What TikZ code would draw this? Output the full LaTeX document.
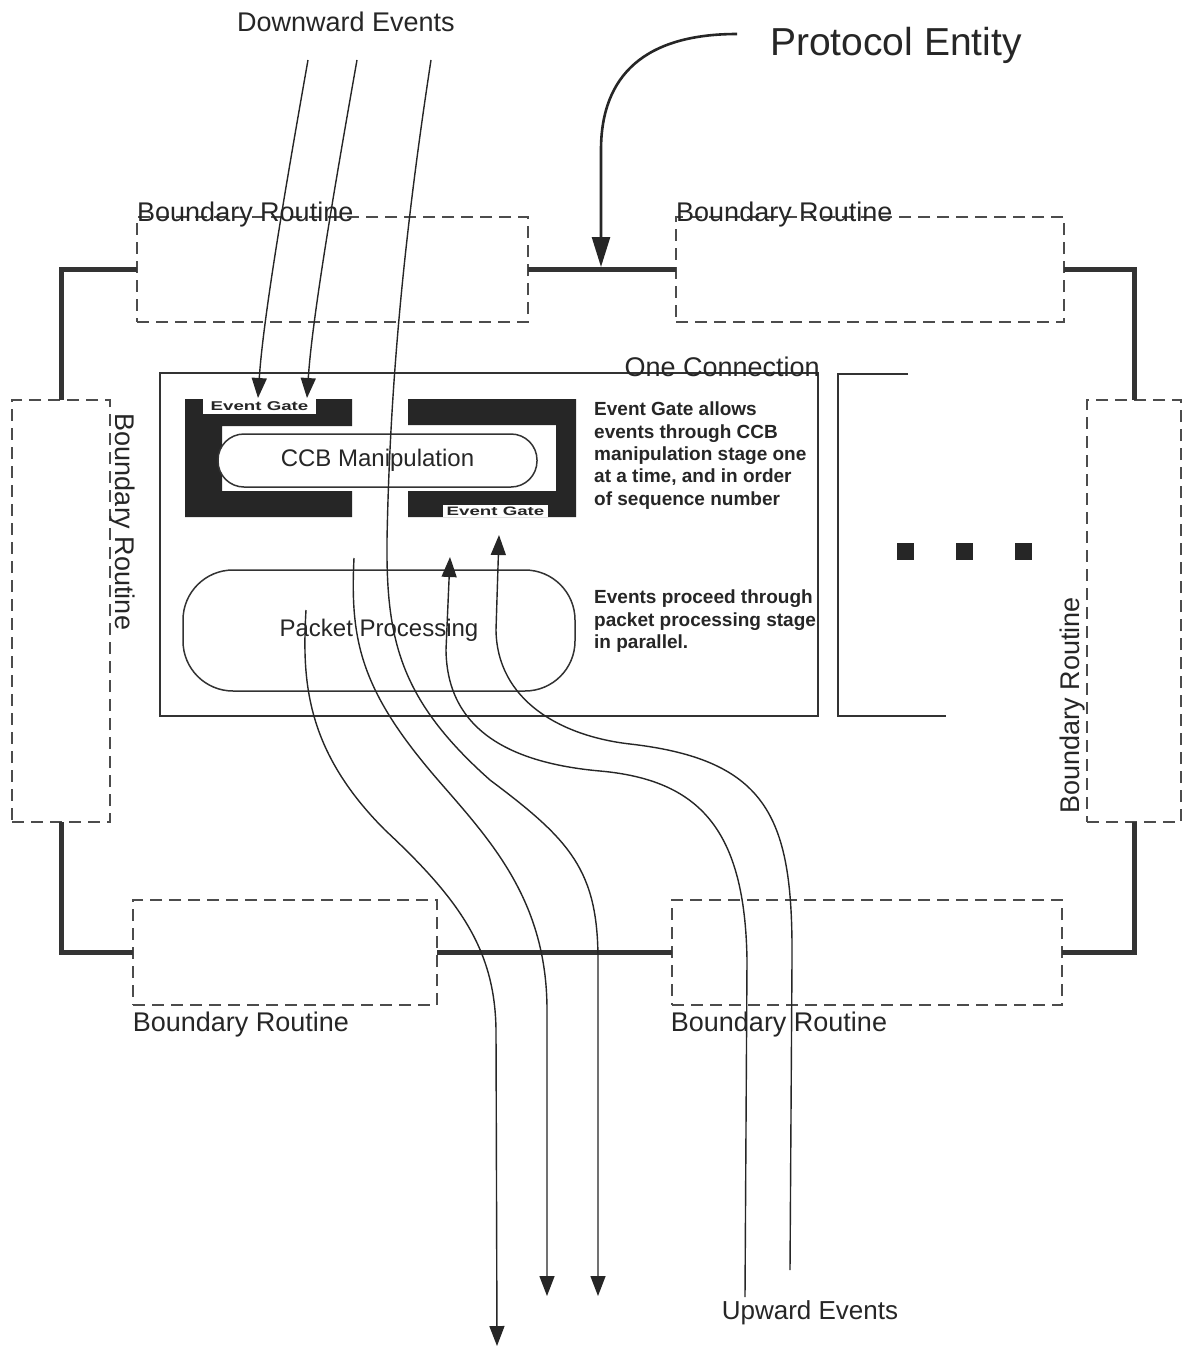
\documentclass[tikz,border=0pt]{standalone}
\usepackage{fontspec}
\setmainfont{Liberation Sans}
\usepackage{graphicx}
\usetikzlibrary{arrows.meta}
\begin{document}
\begin{tikzpicture}[x=1pt,y=-1pt,
  brbox/.style={draw=black!70, dash pattern=on 12pt off 7pt, line width=1.6pt, inner sep=0pt, outer sep=0pt},
  wire/.style={draw=black!80, line width=5pt},
  frame/.style={draw=black!80, line width=1.5pt, inner sep=0pt, outer sep=0pt},
  flow/.style={draw=black!85, line width=1.4pt},
  tipd/.style={-{Triangle[length=20pt,width=15pt]}},
  lbl/.style={inner sep=0pt, font=\fontsize{27}{30}\selectfont, text=black!85},
  note/.style={inner sep=0pt, anchor=north west, align=left, font=\fontsize{19}{22.3}\selectfont\bfseries, text=black!85},
  gatelbl/.style={fill=white, inner sep=0pt, font=\fontsize{17}{18}\selectfont\bfseries, text=black!85},
  gate/.style={fill=black!85, draw=none},
  dot/.style={fill=black!85, minimum size=17pt, inner sep=0pt}
]
\useasboundingbox[fill=white] (0,0) rectangle (1183,1349);

% boundary routine boxes
\node[brbox, minimum width=391pt, minimum height=105pt] (brTL) at (332.5,269.5) {};
\node[brbox, minimum width=388pt, minimum height=105pt] (brTR) at (870,269.5) {};
\node[brbox, minimum width=98pt, minimum height=422pt] (brL) at (61,611) {};
\node[brbox, minimum width=94pt, minimum height=422pt] (brR) at (1134,611) {};
\node[brbox, minimum width=304pt, minimum height=105pt] (brBL) at (285,952.5) {};
\node[brbox, minimum width=390pt, minimum height=105pt] (brBR) at (867,952.5) {};

% thick protocol entity ring
\draw[wire] (brTL.east) -- (brTR.west);
\draw[wire] (brTL.west) -| (brL.north);
\draw[wire] (brL.south) |- (brBL.west);
\draw[wire] (brBL.east) -- (brBR.west);
\draw[wire] (brBR.east) -| (brR.south);
\draw[wire] (brR.north) |- (brTR.east);

% labels of boundary routines
\node[lbl, anchor=base west] (lTL) at (137,221) {Boundary Routine};
\node[lbl, anchor=base west] (lTR) at (676,221) {Boundary Routine};
\node[lbl] (lBL) at (241,1025) {Boundary Routine};
\node[lbl] (lBR) at (779,1025) {Boundary Routine};
\node[lbl, rotate=-90] (lL) at (122,522) {Boundary Routine};
\node[lbl, rotate=90] (lR) at (1073,705) {Boundary Routine};

% titles
\node[lbl] (down) at (346,22) {Downward Events};
\node[lbl, font=\fontsize{26}{30}\selectfont] (up) at (810,1313) {Upward Events};
\node[lbl, font=\fontsize{39}{44}\selectfont] (pe) at (896,45) {Protocol Entity};

% protocol entity pointer
\coordinate (pes) at (737,34);
\coordinate (pej) at (601,267);
\draw[draw=black!85, line width=2.6pt, -{Triangle[length=30pt,width=18pt]}]
  (pes) .. controls (645,34) and (601,75) .. (601,150) -- (pej);

% one connection box
\node[frame, minimum width=658pt, minimum height=343pt] (conn) at (489,544.5) {};
\node[lbl, anchor=base east] (lconn) at (820,376) {One Connection};

% second (partial) connection
\coordinate (c2a) at (908,374);
\coordinate (c2b) at (838,374);
\coordinate (c2c) at (838,716);
\coordinate (c2d) at (946,716);
\draw[frame] (c2a) -- (c2b) -- (c2c) -- (c2d);

% dots
\node[dot] (dt1) at (905,551) {};
\node[dot] (dt2) at (964,551) {};
\node[dot] (dt3) at (1023,551) {};

% event gates
\fill[gate] (185,399) -- (352,399) -- (352,426) -- (222,426) -- (222,491) -- (352,491) -- (352,517) -- (185,517) -- cycle;
\fill[gate] (408,399) -- (576,399) -- (576,517) -- (408,517) -- (408,491) -- (556,491) -- (556,425) -- (408,425) -- cycle;
\node[gatelbl, minimum width=113pt, minimum height=15pt] (eg1) at (259.5,406.5) {\scalebox{1.1}[0.75]{Event Gate}};
\node[gatelbl, minimum width=105pt, minimum height=12pt] (eg2) at (495.5,511) {\scalebox{1.1}[0.72]{Event Gate}};

% stages
\node[frame, fill=white, rounded corners=26pt, minimum width=319pt, minimum height=53pt,
  font=\fontsize{24}{28}\selectfont, text=black!85] (ccb) at (377.5,460.5) {CCB Manipulation};
\node[frame, rounded corners=50pt, minimum width=392pt, minimum height=121pt,
  font=\fontsize{24}{28}\selectfont, text=black!85] (pp) at (379,630.5) {Packet Processing};

% notes
\node[note] (n1) at (594,402) {Event Gate allows\\events through CCB\\manipulation stage one\\at a time, and in order\\of sequence number};
\node[note] (n2) at (594,590) {Events proceed through\\packet processing stage\\in parallel.};

% flow end points
\coordinate (d1s) at (308,60);  \coordinate (d1e) at (258,398);
\coordinate (d2s) at (357,60);  \coordinate (d2e) at (307,398);
\coordinate (d3s) at (431,60);  \coordinate (d3e) at (598,1296);
\coordinate (bs) at (354,558);  \coordinate (be) at (547,1296);
\coordinate (as) at (306,610);  \coordinate (ae) at (497,1346);
\coordinate (ds) at (745,1297); \coordinate (de) at (450,557);
\coordinate (es) at (790,1270); \coordinate (ee) at (499,535);

% downward event flows
\draw[flow, tipd] (d1s) .. controls (285,190) and (263,320) .. (d1e);
\draw[flow, tipd] (d2s) .. controls (334,190) and (312,320) .. (d2e);
\draw[flow, tipd] (d3s) .. controls (405,230) and (390,380) .. (387,540)
  .. controls (386,640) and (400,700) .. (490,780)
  .. controls (570,840) and (598,870) .. (598,960) -- (d3e);
\draw[flow, tipd] (bs) .. controls (350,640) and (360,690) .. (438,780)
  .. controls (490,840) and (547,900) .. (547,1010) -- (be);
\draw[flow, tipd] (as) .. controls (302,680) and (305,750) .. (385,830)
  .. controls (460,900) and (495,950) .. (496,1030) -- (ae);

% upward event flows
\draw[flow, tipd] (ds) -- (747,960) .. controls (745,830) and (700,780) .. (600,771)
  .. controls (510,763) and (447,730) .. (446,650) -- (de);
\draw[flow, tipd] (es) -- (792,960) .. controls (793,820) and (770,760) .. (630,744)
  .. controls (560,736) and (497,700) .. (496,630) -- (ee);
\end{tikzpicture}
\end{document}
